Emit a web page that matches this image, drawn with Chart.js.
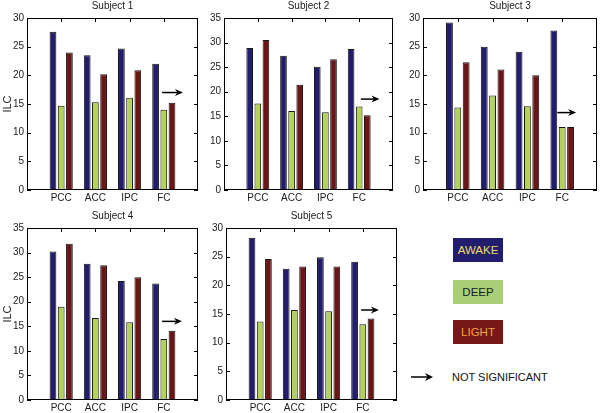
<!DOCTYPE html>
<html lang="en">
<head>
    <meta charset="UTF-8">
    <title>ILC by subject</title>
    <script src="https://cdn.jsdelivr.net/npm/chart.js"></script>
    <style>
        body { margin: 0; width: 600px; height: 413px; overflow: hidden; background: #fff;
               font-family: 'Liberation Sans', Arial, sans-serif; }
        .panel { position: absolute; }
        .key { position: absolute; left: 453px; width: 50px; height: 24px; line-height: 24px;
               text-align: center; font-size: 11.5px; }
    </style>
</head>
<body>
    <div class="panel" id="p0"><canvas id="c0"></canvas></div>
    <div class="panel" id="p1"><canvas id="c1"></canvas></div>
    <div class="panel" id="p2"><canvas id="c2"></canvas></div>
    <div class="panel" id="p3"><canvas id="c3"></canvas></div>
    <div class="panel" id="p4"><canvas id="c4"></canvas></div>

    <div class="key" style="top:238px; background:#221d6c; color:#e8df6c;">AWAKE</div>
    <div class="key" style="top:280px; background:#a8cf78; color:#1c1c1c;">DEEP</div>
    <div class="key" style="top:320px; background:#761818; color:#f3a343;">LIGHT</div>
    <svg style="position:absolute; left:408px; top:370px;" width="30" height="14">
        <line x1="3" y1="7" x2="20" y2="7" stroke="#000" stroke-width="1.5"/>
        <path d="M25 7 L17 3 L19.5 7 L17 11 Z" fill="#000"/>
    </svg>
    <div style="position:absolute; left:452px; top:370px; font-size:11px; line-height:14px; color:#111;">NOT SIGNIFICANT</div>

    <script>
        const categories = ['PCC', 'ACC', 'IPC', 'FC'];
        const subjects = ['Subject 1', 'Subject 2', 'Subject 3', 'Subject 4', 'Subject 5'];

        // one row per subject, values in category order
        const awake = [
            [27.6, 23.5, 24.7, 22.0],
            [28.9, 27.3, 25.1, 28.7],
            [29.2, 25.0, 24.1, 27.8],
            [30.2, 27.7, 24.2, 23.7],
            [28.3, 22.9, 24.9, 24.1]
        ];
        const deep = [
            [14.7, 15.3, 16.1, 14.0],
            [17.6, 16.1, 15.8, 17.0],
            [14.4, 16.5, 14.6, 11.0],
            [19.0, 16.7, 15.8, 12.4],
            [13.7, 15.7, 15.5, 13.2]
        ];
        const light = [
            [24.0, 20.2, 20.9, 15.2],
            [30.5, 21.4, 26.6, 15.2],
            [22.3, 21.0, 20.0, 11.0],
            [31.8, 27.4, 25.0, 14.1],
            [24.6, 23.3, 23.3, 14.2]
        ];
        const yMax = [30, 35, 30, 35, 30];

        // "not significant" arrows: start x, end x (category units), y value
        const arrowX0 = [3.95, 4.05, 3.86, 3.95, 3.95];
        const arrowX1 = [4.56, 4.60, 4.40, 4.53, 4.47];
        const arrowY = [17.0, 18.5, 13.5, 16.0, 15.7];

        // plot area boxes in page pixels [left, top, right, bottom]
        const boxes = [
            [27, 18, 198, 190],
            [224, 18, 393, 190],
            [423, 18, 597, 190],
            [27, 228, 198, 400],
            [226, 228, 397, 400]
        ];

        const FONT = "'Liberation Sans', Arial, sans-serif";
        const AXIS_W = 27, TITLE_H = 18, XAXIS_H = 13;

        const frame = {
            id: 'frame',
            afterDraw(chart) {
                const { ctx, chartArea: a, scales } = chart;
                ctx.save();
                ctx.strokeStyle = '#000';
                ctx.lineWidth = 1;
                ctx.strokeRect(a.left + 0.5, a.top + 0.5, a.right - a.left - 1, a.bottom - a.top - 1);
                ctx.beginPath();
                scales.y.ticks.forEach(t => {
                    const py = Math.round(scales.y.getPixelForValue(t.value)) + 0.5;
                    ctx.moveTo(a.left, py); ctx.lineTo(a.left + 4, py);
                    ctx.moveTo(a.right, py); ctx.lineTo(a.right - 4, py);
                });
                // category ticks only on the top edge (bottom ones sit behind the bars)
                for (let i = 1; i <= categories.length; i++) {
                    const px = Math.round(scales.x.getPixelForValue(i)) + 0.5;
                    ctx.moveTo(px, a.top); ctx.lineTo(px, a.top + 4);
                }
                ctx.stroke();
                ctx.restore();
            }
        };

        function arrowPlugin(k) {
            return {
                id: 'sigArrow',
                afterDatasetsDraw(chart) {
                    const { ctx, scales } = chart;
                    const x0 = scales.x.getPixelForValue(arrowX0[k]);
                    const x1 = scales.x.getPixelForValue(arrowX1[k]);
                    const y = scales.y.getPixelForValue(arrowY[k]);
                    ctx.save();
                    ctx.strokeStyle = '#000';
                    ctx.fillStyle = '#000';
                    ctx.lineWidth = 1.5;
                    ctx.beginPath();
                    ctx.moveTo(x0, y); ctx.lineTo(x1 - 4, y);
                    ctx.stroke();
                    ctx.beginPath();
                    ctx.moveTo(x1, y);
                    ctx.lineTo(x1 - 8, y - 3.5);
                    ctx.lineTo(x1 - 5.5, y);
                    ctx.lineTo(x1 - 8, y + 3.5);
                    ctx.closePath();
                    ctx.fill();
                    ctx.restore();
                }
            };
        }

        const labels = [''].concat(categories, ['']);
        const pad = arr => [null].concat(arr, [null]);

        subjects.forEach((name, k) => {
            const [l, t, r, b] = boxes[k];
            const rightPad = k === 2 ? 3 : 7;
            const w = (r - l) + AXIS_W + rightPad;
            const h = (b - t) + TITLE_H + XAXIS_H;
            const panel = document.getElementById('p' + k);
            panel.style.left = (l - AXIS_W) + 'px';
            panel.style.top = (t - TITLE_H) + 'px';
            const canvas = document.getElementById('c' + k);
            canvas.width = w;
            canvas.height = h;

            const bar = (data, color) => ({
                data: pad(data),
                backgroundColor: color,
                borderColor: '#161616',
                borderWidth: 1,
                borderSkipped: 'bottom',
                categoryPercentage: 0.72,
                barPercentage: 0.82
            });

            new Chart(canvas.getContext('2d'), {
                type: 'bar',
                data: {
                    labels: labels,
                    datasets: [
                        bar(awake[k], '#221d6c'),
                        bar(deep[k], '#b3d25c'),
                        bar(light[k], '#6b1616')
                    ]
                },
                options: {
                    responsive: false,
                    animation: false,
                    devicePixelRatio: 1,
                    layout: { padding: { left: 0, right: rightPad, top: 0, bottom: 0 } },
                    plugins: {
                        legend: { display: false },
                        tooltip: { enabled: false },
                        title: {
                            display: true,
                            text: name,
                            fullSize: false,
                            color: '#1a1a1a',
                            font: { family: FONT, size: 10, weight: 'normal' },
                            padding: { top: 0, bottom: 6 }
                        }
                    },
                    scales: {
                        x: {
                            offset: false,
                            grid: { display: false, drawTicks: false },
                            border: { display: false },
                            ticks: {
                                autoSkip: false, maxRotation: 0, padding: 2,
                                color: '#1a1a1a', font: { family: FONT, size: 10 }
                            },
                            afterFit: s => { s.height = XAXIS_H; }
                        },
                        y: {
                            min: 0,
                            max: yMax[k],
                            grid: { display: false, drawTicks: false },
                            border: { display: false },
                            ticks: {
                                stepSize: 5, padding: 3,
                                color: '#1a1a1a', font: { family: FONT, size: 10 }
                            },
                            title: {
                                display: k === 0 || k === 3,
                                text: 'ILC',
                                color: '#1a1a1a',
                                font: { family: FONT, size: 11 },
                                padding: { top: 1, bottom: 0 }
                            },
                            afterFit: s => { s.width = AXIS_W; }
                        }
                    }
                },
                plugins: [frame, arrowPlugin(k)]
            });
        });
    </script>
</body>
</html>
